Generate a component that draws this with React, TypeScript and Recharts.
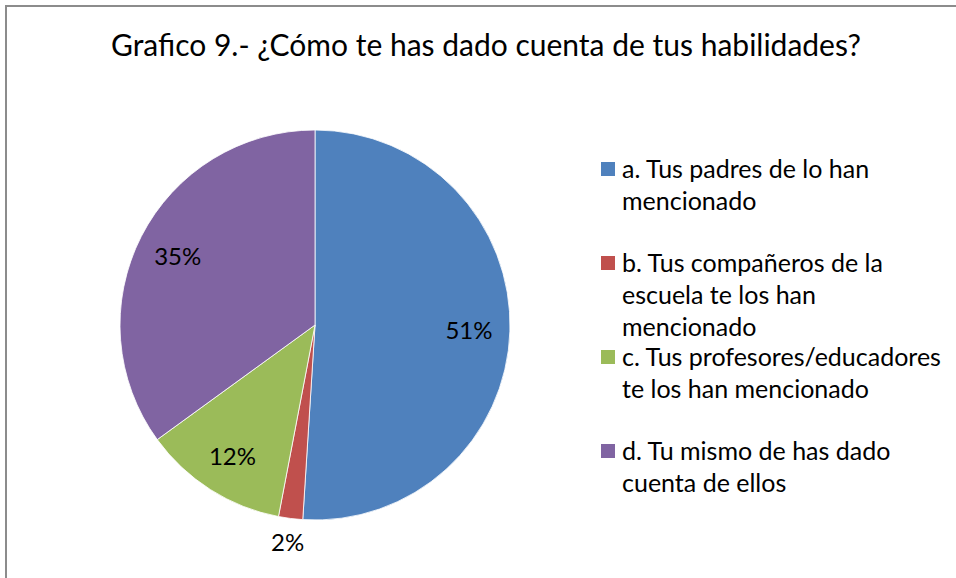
import * as React from "react";
import { Legend, Pie, PieChart, Cell } from "recharts";

const categories = [
  "a. Tus padres de lo han mencionado",
  "b. Tus compañeros de la escuela te los han mencionado",
  "c. Tus profesores/educadores te los han mencionado",
  "d. Tu mismo de has dado cuenta de ellos",
];
const shares = [51, 2, 12, 35];
const colors = ["#4F81BD", "#C0504D", "#9BBB59", "#8064A2"];

const title = "Grafico 9.- ¿Cómo te has dado cuenta de tus habilidades?";
const font = "Lato, 'Open Sans', sans-serif";

const data = categories.map((name, i) => ({ name, value: shares[i] }));

const RAD = Math.PI / 180;

function renderLabel(props: any) {
  const { cx, cy, midAngle, outerRadius, percent, value } = props;
  const r = percent < 0.05 ? outerRadius * 1.12 : outerRadius * 0.79;
  const x = cx + r * Math.cos(-midAngle * RAD);
  const y = cy + r * Math.sin(-midAngle * RAD);
  return (
    <text
      x={x}
      y={y}
      fill="#000"
      fontSize={24}
      fontFamily={font}
      textAnchor="middle"
      dominantBaseline="central"
    >
      {`${value}%`}
    </text>
  );
}

function LegendBox() {
  return (
    <div style={{ fontFamily: font, fontSize: 25, color: "#000" }}>
      {data.map((d, i) => (
        <div key={d.name} style={{ display: "flex", height: 94 }}>
          <div
            style={{
              width: 14,
              height: 14,
              background: colors[i],
              marginTop: 10,
              marginRight: 7,
              flex: "none",
            }}
          />
          <div style={{ width: 325, lineHeight: "32px" }}>{d.name}</div>
        </div>
      ))}
    </div>
  );
}

export default function App() {
  return (
    <div
      style={{
        position: "fixed",
        left: 0,
        top: 0,
        width: 956,
        height: 578,
        overflow: "hidden",
        background: "#fff",
      }}
    >
      <div
        style={{
          position: "absolute",
          left: 5,
          top: 5,
          width: 1000,
          height: 700,
          border: "2px solid #8c8c8c",
        }}
      />
      <div
        style={{
          position: "absolute",
          left: 0,
          width: 972,
          top: 26,
          textAlign: "center",
          fontFamily: font,
          fontSize: 30,
          color: "#000",
        }}
      >
        {title}
      </div>
      <div style={{ position: "absolute", left: 0, top: 0 }}>
        <PieChart width={956} height={578}>
          <Pie
            data={data}
            dataKey="value"
            nameKey="name"
            cx={310}
            cy={320}
            outerRadius={195}
            startAngle={90}
            endAngle={-270}
            stroke="#fff"
            strokeWidth={0.8}
            label={renderLabel}
            labelLine={false}
            isAnimationActive={false}
          >
            {data.map((d, i) => (
              <Cell key={d.name} fill={colors[i]} />
            ))}
          </Pie>
          <Legend
            content={<LegendBox />}
            wrapperStyle={{ position: "absolute", left: 601, top: 152, width: 360 }}
          />
        </PieChart>
      </div>
    </div>
  );
}
